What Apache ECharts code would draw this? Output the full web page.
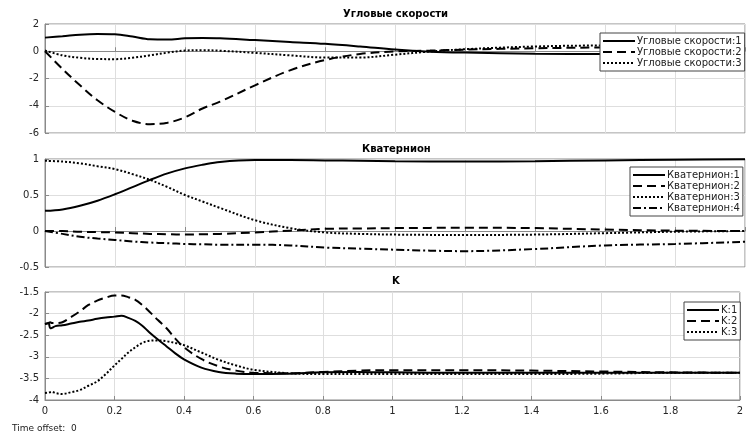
<!DOCTYPE html>
<html>
<head>
<meta charset="utf-8">
<script src="https://cdn.jsdelivr.net/npm/echarts@6/dist/echarts.min.js"></script>
<style>
  html, body { margin: 0; padding: 0; background: #fff; }
  #chart { width: 746px; height: 435px; }
</style>
</head>
<body>
<div id="chart"></div>
<script>
(function () {
  // Угловые скорости
  var tW = [0, 0.05, 0.1, 0.15, 0.2, 0.25, 0.3, 0.35, 0.4, 0.45, 0.5, 0.6, 0.7, 0.8, 0.9, 1.0, 1.1, 1.2, 1.4, 1.6, 1.8, 2.0];
  var w1 = [1.0, 1.1, 1.22, 1.27, 1.25, 1.08, 0.88, 0.86, 0.95, 0.98, 0.96, 0.82, 0.68, 0.55, 0.35, 0.12, -0.03, -0.1, -0.18, -0.2, -0.2, -0.2];
  var w2 = [0, -1.3, -2.5, -3.6, -4.45, -5.1, -5.35, -5.25, -4.85, -4.2, -3.7, -2.5, -1.4, -0.65, -0.2, -0.02, 0.05, 0.12, 0.22, 0.28, 0.3, 0.32];
  var w3 = [0.05, -0.3, -0.48, -0.57, -0.58, -0.48, -0.3, -0.1, 0.05, 0.08, 0.04, -0.12, -0.3, -0.46, -0.46, -0.25, -0.02, 0.15, 0.35, 0.42, 0.42, 0.42];

  // Кватернион
  var tQ = [0, 0.05, 0.1, 0.15, 0.2, 0.25, 0.3, 0.35, 0.4, 0.45, 0.5, 0.6, 0.7, 0.8, 0.9, 1.0, 1.2, 1.4, 1.6, 1.8, 2.0];
  var q1 = [0.28, 0.3, 0.35, 0.42, 0.51, 0.61, 0.71, 0.8, 0.87, 0.92, 0.96, 0.985, 0.985, 0.98, 0.975, 0.97, 0.965, 0.97, 0.98, 0.99, 0.995];
  var q2 = [0, 0, -0.01, -0.015, -0.02, -0.03, -0.04, -0.045, -0.05, -0.045, -0.04, -0.02, 0.005, 0.03, 0.035, 0.04, 0.045, 0.04, 0.02, 0.005, 0];
  var q3 = [0.975, 0.965, 0.94, 0.9, 0.86, 0.79, 0.71, 0.61, 0.5, 0.41, 0.32, 0.15, 0.04, -0.02, -0.04, -0.05, -0.055, -0.05, -0.03, -0.01, 0];
  var q4 = [0, -0.04, -0.08, -0.105, -0.125, -0.145, -0.16, -0.17, -0.18, -0.185, -0.19, -0.19, -0.2, -0.23, -0.245, -0.26, -0.28, -0.25, -0.2, -0.18, -0.15];

  // K
  var tK = [0, 0.01, 0.015, 0.02, 0.03, 0.05, 0.075, 0.1, 0.125, 0.15, 0.175, 0.2, 0.22, 0.24, 0.26, 0.28, 0.3, 0.325, 0.35, 0.375, 0.4, 0.45, 0.5, 0.55, 0.6, 0.7, 0.8, 0.9, 1.0, 1.2, 1.4, 1.6, 1.8, 2.0];
  var k1 = [-2.24, -2.22, -2.34, -2.33, -2.29, -2.27, -2.23, -2.19, -2.16, -2.12, -2.09, -2.07, -2.05, -2.1, -2.17, -2.28, -2.43, -2.6, -2.76, -2.92, -3.06, -3.25, -3.35, -3.39, -3.4, -3.39, -3.36, -3.35, -3.36, -3.37, -3.37, -3.37, -3.37, -3.37];
  var k2 = [-2.24, -2.22, -2.2, -2.22, -2.22, -2.2, -2.08, -1.95, -1.8, -1.7, -1.63, -1.58, -1.58, -1.62, -1.68, -1.8, -1.95, -2.15, -2.34, -2.58, -2.78, -3.05, -3.22, -3.32, -3.37, -3.38, -3.35, -3.32, -3.31, -3.31, -3.32, -3.34, -3.36, -3.37];
  var k3 = [-3.84, -3.83, -3.82, -3.81, -3.84, -3.86, -3.82, -3.77, -3.67, -3.57, -3.4, -3.2, -3.05, -2.9, -2.78, -2.68, -2.63, -2.62, -2.64, -2.68, -2.73, -2.9, -3.07, -3.2, -3.3, -3.38, -3.4, -3.4, -3.4, -3.4, -3.4, -3.39, -3.37, -3.37];

  var xTicks = [0, 2, 0.2];
  var font = 'DejaVu Sans';
  var gridColor = '#dedede';
  var frameColor = '#8a8a8a';
  var DASH = [9, 5];
  var DOT = [2, 2];
  var DASHDOT = [8, 3, 2, 3];

  function zip(t, v) {
    return t.map(function (x, i) { return [x, v[i]]; });
  }

  function xAxis(idx, showLabels) {
    return {
      type: 'value', gridIndex: idx, min: xTicks[0], max: xTicks[1], interval: xTicks[2],
      axisLine: { show: true, lineStyle: { color: frameColor } },
      axisTick: { show: true, inside: true, length: 4, lineStyle: { color: frameColor } },
      axisLabel: { show: showLabels, color: '#262626', fontFamily: font, fontSize: 10, margin: 6 },
      splitLine: { show: true, lineStyle: { color: gridColor } }
    };
  }

  function yAxis(idx, min, max, step) {
    return {
      type: 'value', gridIndex: idx, min: min, max: max, interval: step,
      axisLine: { show: true, lineStyle: { color: frameColor } },
      axisTick: { show: true, inside: true, length: 4, lineStyle: { color: frameColor } },
      axisLabel: { color: '#262626', fontFamily: font, fontSize: 10, margin: 6 },
      splitLine: { show: true, lineStyle: { color: gridColor } }
    };
  }

  function line(name, idx, t, v, dash) {
    return {
      name: name, type: 'line', xAxisIndex: idx, yAxisIndex: idx,
      data: zip(t, v), smooth: 0.35, symbol: 'none', showSymbol: false,
      lineStyle: { color: '#000', width: 2, type: dash },
      itemStyle: { color: '#000' },
      emphasis: { disabled: true }
    };
  }

  function legend(names, left, top) {
    return {
      data: names, orient: 'vertical', left: left, top: top,
      itemWidth: 32, itemHeight: 10, itemGap: 1,
      padding: [3, 3, 3, 2],
      borderColor: '#444', borderWidth: 1, backgroundColor: '#fff',
      itemStyle: { opacity: 0 },
      lineStyle: { width: 2 },
      textStyle: { fontFamily: font, fontSize: 10, color: '#222', padding: [0, 0, 0, -3] },
      selectedMode: false
    };
  }

  function title(text, left, top) {
    return { text: text, left: left, top: top, padding: 0,
      textStyle: { fontFamily: font, fontSize: 10, fontWeight: 'bold', color: '#000' } };
  }

  var wNames = ['Угловые скорости:1', 'Угловые скорости:2', 'Угловые скорости:3'];
  var qNames = ['Кватернион:1', 'Кватернион:2', 'Кватернион:3', 'Кватернион:4'];
  var kNames = ['K:1', 'K:2', 'K:3'];

  var chart = echarts.init(document.getElementById('chart'), null, { renderer: 'canvas' });
  chart.setOption({
    animation: false,
    backgroundColor: '#fff',
    title: [
      title('Угловые скорости', 343, 9),
      title('Кватернион', 362, 144),
      title('K', 392, 276)
    ],
    grid: [
      { left: 45, top: 24, width: 700, height: 109, show: true, borderColor: frameColor, borderWidth: 1 },
      { left: 45, top: 159, width: 700, height: 108, show: true, borderColor: frameColor, borderWidth: 1 },
      { left: 45, top: 292, width: 700, height: 108, show: true, borderColor: frameColor, borderWidth: 1 }
    ],
    xAxis: [xAxis(0, false), xAxis(1, false), xAxis(2, true)],
    yAxis: [yAxis(0, -6, 2, 2), yAxis(1, -0.5, 1, 0.5), yAxis(2, -4, -1.5, 0.5)],
    legend: [
      legend(wNames, 600, 33),
      legend(qNames, 630, 167),
      legend(kNames, 684, 302)
    ],
    series: [
      line(wNames[0], 0, tW, w1, 'solid'),
      line(wNames[1], 0, tW, w2, DASH),
      line(wNames[2], 0, tW, w3, DOT),
      line(qNames[0], 1, tQ, q1, 'solid'),
      line(qNames[1], 1, tQ, q2, DASH),
      line(qNames[2], 1, tQ, q3, DOT),
      line(qNames[3], 1, tQ, q4, DASHDOT),
      line(kNames[0], 2, tK, k1, 'solid'),
      line(kNames[1], 2, tK, k2, DASH),
      line(kNames[2], 2, tK, k3, DOT)
    ],
    graphic: [{
      type: 'text', left: 12, top: 424,
      style: { text: 'Time offset:  0', font: '9px "DejaVu Sans"', fill: '#222' }
    }]
  });
})();
</script>
</body>
</html>
